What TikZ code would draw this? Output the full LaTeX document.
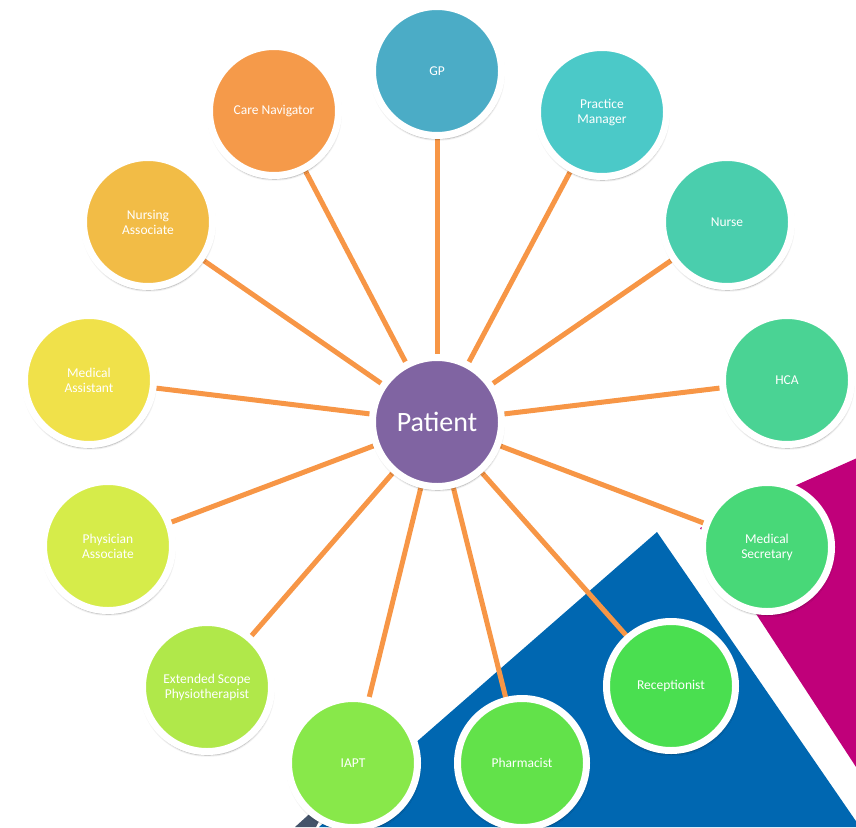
\documentclass[tikz,border=0pt]{standalone}
\usepackage{fontspec}
\setmainfont{Carlito}
\usetikzlibrary{shadows.blur}
\pgfdeclarelayer{bg}
\pgfsetlayers{bg,main}
\definecolor{linkorange}{HTML}{F79646}
\definecolor{bgblue}{HTML}{0067B1}
\definecolor{bgmag}{HTML}{C0007A}
\definecolor{slate}{HTML}{44546A}
\definecolor{cPatient}{HTML}{8064A2}
\definecolor{cGP}{HTML}{4BACC6}
\definecolor{cPM}{HTML}{4BC9C8}
\definecolor{cNurse}{HTML}{4ACEAD}
\definecolor{cHCA}{HTML}{4AD394}
\definecolor{cMS}{HTML}{48D878}
\definecolor{cRec}{HTML}{4ADF50}
\definecolor{cPharm}{HTML}{62E24A}
\definecolor{cIAPT}{HTML}{88E84A}
\definecolor{cESP}{HTML}{B0E84A}
\definecolor{cPA}{HTML}{D6EC4A}
\definecolor{cMA}{HTML}{F0E14A}
\definecolor{cNA}{HTML}{F2BC46}
\definecolor{cCN}{HTML}{F59A4A}
\begin{document}
\begin{tikzpicture}[x=1pt,y=-1pt,
  member/.style={circle, draw=white, line width=7pt, minimum size=129pt,
    inner sep=0pt, text=white, align=center,
    font=\fontsize{13.5}{15}\selectfont,
    blur shadow={shadow xshift=0.5pt, shadow yshift=-2.5pt, shadow scale=1.015,
      shadow blur steps=8, shadow blur extra rounding=2pt, shadow opacity=35}},
  link/.style={draw=linkorange, line width=5pt}]
\useasboundingbox (0,0) rectangle (856,827);

\node[member, fill=cPatient, font=\fontsize{28}{30}\selectfont] (p) at (437,422) {Patient};
\node[member, fill=cGP] (gp) at (437,71) {GP};
\node[member, fill=cPM] (pm) at (602,112) {Practice\\Manager};
\node[member, fill=cNurse] (nu) at (727,222) {Nurse};
\node[member, fill=cHCA] (hca) at (787,380) {HCA};
\node[member, fill=cMS] (ms) at (767,547) {Medical\\Secretary};
\node[member, fill=cRec] (rec) at (671,686) {Receptionist};
\node[member, fill=cPharm] (ph) at (522,763) {Pharmacist};
\node[member, fill=cIAPT] (iapt) at (353,763) {IAPT};
\node[member, fill=cESP] (esp) at (207,687) {Extended Scope\\Physiotherapist};
\node[member, fill=cPA] (pa) at (108,546) {Physician\\Associate};
\node[member, fill=cMA] (ma) at (89,380) {Medical\\Assistant};
\node[member, fill=cNA] (na) at (148,222) {Nursing\\Associate};
\node[member, fill=cCN] (cn) at (274,111) {Care Navigator};

\begin{pgfonlayer}{bg}
  \begin{scope}
    \clip (0,0) rectangle (856,827);
    \fill[slate] (295,827) -- (316,808) -- (326,808) -- (316,827) -- cycle;
    \fill[bgblue] (657,532) -- (319,827) -- (860,827) -- cycle;
    \fill[bgmag] (700,528) -- (920,430) -- (920,865) -- cycle;
  \end{scope}
  \foreach \n in {gp,pm,nu,hca,ms,rec,ph,iapt,esp,pa,ma,na,cn}
    \draw[link] (p.center) -- (\n.center);
\end{pgfonlayer}
\end{tikzpicture}
\end{document}
